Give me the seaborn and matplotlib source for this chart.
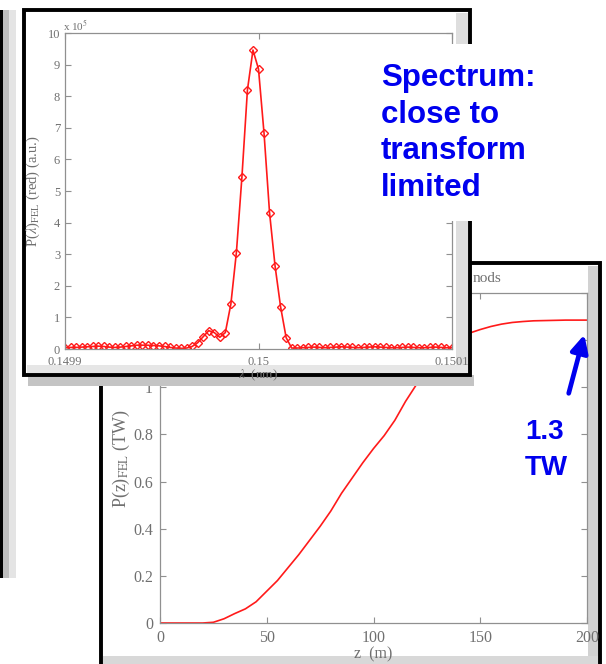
import numpy as np
import matplotlib
matplotlib.use("Agg")
import matplotlib.pyplot as plt
from matplotlib.patches import Rectangle, FancyArrowPatch
from matplotlib.ticker import FuncFormatter
import seaborn as sns

# ---------------- data ----------------
# FEL spectrum (a.u., x 10^5) on a regular wavelength grid 0.1499 .. 0.1501 nm
spec_vals = [0.04, 0.05, 0.05, 0.06, 0.07, 0.08, 0.09, 0.08, 0.06, 0.05, 0.06,
             0.08, 0.10, 0.12, 0.12, 0.12, 0.11, 0.10, 0.08,
             0.05, 0.03, 0.02, 0.03,
             0.08, 0.20, 0.39, 0.58, 0.52, 0.37, 0.52, 1.42, 3.05, 5.44, 8.20,
             9.46, 8.86, 6.83, 4.31, 2.62, 1.33, 0.36, 0.03,
             0.03, 0.04, 0.05, 0.06, 0.05, 0.04, 0.05, 0.06, 0.07, 0.06, 0.05,
             0.04, 0.05, 0.06, 0.07, 0.06, 0.05, 0.04, 0.04, 0.05, 0.06, 0.05,
             0.04, 0.04, 0.05, 0.06, 0.05, 0.04, 0.04]
lam_min, lam_max = 0.1499, 0.1501
lam = np.linspace(lam_min, lam_max, len(spec_vals))
spec_xticks = [0.1499, 0.15, 0.1501]
spec_xticklabels = ["0.1499", "0.15", "0.1501"]
spec_yticks = list(range(0, 11))

# FEL power along the undulator
z_m = [0, 5, 10, 15, 20, 25, 30, 35, 40, 45, 50, 55, 60, 65, 70, 75, 80, 85, 90, 95,
       100, 105, 110, 115, 120, 125, 130, 135, 140, 145, 150, 155, 160, 165, 170,
       175, 180, 185, 190, 195, 200]
p_tw = [0, 0, 0, 0, 0, 0.003, 0.018, 0.04, 0.06, 0.09, 0.135, 0.18, 0.235, 0.29,
        0.35, 0.41, 0.475, 0.55, 0.615, 0.68, 0.74, 0.795, 0.86, 0.94, 1.01, 1.08,
        1.14, 1.18, 1.21, 1.23, 1.245, 1.258, 1.268, 1.275, 1.279, 1.282, 1.283,
        1.284, 1.285, 1.285, 1.285]
pow_xticks = [0, 50, 100, 150, 200]
pow_yticks = [0, 0.2, 0.4, 0.6, 0.8, 1.0, 1.2, 1.4]

# ---------------- figure ----------------
sns.set_style("ticks")
plt.rcParams["font.family"] = ["Liberation Serif", "DejaVu Serif"]
plt.rcParams["mathtext.fontset"] = "stix"

W, H = 606, 664
fig = plt.figure(figsize=(W / 100, H / 100), dpi=100)
fig.patch.set_facecolor("white")


def fx(x):
    return x / W


def fy(y):
    return 1 - y / H


def rect(x0, y0, x1, y1, z, fc="white", ec="none", lw=0):
    r = Rectangle((fx(x0), fy(y1)), (x1 - x0) / W, (y1 - y0) / H,
                  transform=fig.transFigure, facecolor=fc, edgecolor=ec,
                  linewidth=lw, zorder=z)
    fig.add_artist(r)
    return r


tick_col = "#707070"
spine_col = "#909090"

# background slide frame at far left
rect(0, 10, 3, 578, 0.2, fc="black")
rect(3, 10, 9, 578, 0.2, fc="#bdbdbd")
rect(9, 10, 16, 578, 0.2, fc="#e4e4e4")

# ---- power panel (underneath) ----
rect(101, 263, 600, 720, 0.5, fc="white", ec="black", lw=2.8)
rect(588, 266, 598, 720, 0.55, fc="#d2d2d2")
rect(103, 656, 598, 664, 0.55, fc="#d8d8d8")
ax2 = fig.add_axes([fx(160), fy(623), (587 - 160) / W, (623 - 293) / H])
ax2.set_zorder(1)
sns.lineplot(x=z_m, y=p_tw, ax=ax2, color="#ff1a1a", linewidth=1.2)
ax2.set_xlim(0, 200)
ax2.set_ylim(0, 1.4)
ax2.set_xticks(pow_xticks)
ax2.set_yticks(pow_yticks)
ax2.yaxis.set_major_formatter(FuncFormatter(lambda v, p: "%g" % round(v, 2)))
ax2.tick_params(direction="in", top=True, right=True, length=4, width=0.8,
                colors=spine_col, labelcolor=tick_col, labelsize=11.5, pad=5)
for s in ax2.spines.values():
    s.set_color(spine_col)
    s.set_linewidth(0.9)
ax2.set_xlabel("z  (m)", fontsize=11.5, color=tick_col, labelpad=0)
ax2.set_ylabel(r"P(z)$_{\mathrm{FEL}}$ (TW)", fontsize=13, color=tick_col,
               labelpad=1)
fig.text(fx(473), fy(279), "nods", fontsize=11, color=tick_col,
         ha="left", va="center", zorder=0.9)

# ---- spectrum panel (on top) ----
rect(28, 375, 474, 386, 1.9, fc="#c4c4c4")
rect(24, 10, 470, 375, 2.0, fc="white", ec="black", lw=2.8)
rect(456, 13, 468, 373, 2.05, fc="#dedede")
rect(27, 365, 468, 373, 2.05, fc="#e6e6e6")
ax1 = fig.add_axes([fx(65), fy(349), (452 - 65) / W, (349 - 33) / H])
ax1.set_zorder(3)
ax1.patch.set_alpha(0)
sns.lineplot(x=lam, y=spec_vals, ax=ax1, color="#ff1a1a", linewidth=1.2,
             marker="D", markersize=4.4, markerfacecolor="none",
             markeredgecolor="#ff1a1a", markeredgewidth=1.0)
ax1.set_xlim(lam_min, lam_max)
ax1.set_ylim(0, 10)
ax1.set_xticks(spec_xticks)
ax1.set_xticklabels(spec_xticklabels)
ax1.set_yticks(spec_yticks)
ax1.tick_params(direction="in", top=True, right=True, length=4, width=0.8,
                colors=spine_col, labelcolor=tick_col, labelsize=9, pad=3.5)
ax1.tick_params(axis="x", pad=5)
for s in ax1.spines.values():
    s.set_color(spine_col)
    s.set_linewidth(0.9)
ax1.set_xlabel(r"$\lambda$  (nm)", fontsize=9.5, color=tick_col, labelpad=0)
ax1.set_ylabel(r"P($\lambda$)$_{\mathrm{FEL}}$ (red) (a.u.)", fontsize=10.5,
               color=tick_col, labelpad=4)
fig.text(fx(63), fy(30), r"x 10$^{5}$", fontsize=8, color=tick_col,
         ha="left", va="baseline", zorder=4)

# ---- annotation: spectrum text box ----
rect(376, 44, 557, 221, 5, fc="white")
blue = "#0000ee"
for i, line in enumerate(["Spectrum:", "close to", "transform", "limited"]):
    fig.text(fx(381), fy(86 + i * 36.7), line, fontsize=22.5, fontweight="bold",
             color=blue, family=["Liberation Sans", "DejaVu Sans"],
             ha="left", va="baseline", zorder=6)

# ---- annotation: 1.3 TW ----
fig.text(fx(525), fy(439), "1.3", fontsize=20, fontweight="bold", color=blue,
         family=["Liberation Sans", "DejaVu Sans"], ha="left", va="baseline",
         zorder=6)
fig.text(fx(525), fy(475), "TW", fontsize=20, fontweight="bold", color=blue,
         family=["Liberation Sans", "DejaVu Sans"], ha="left", va="baseline",
         zorder=6)
arrow = FancyArrowPatch((fx(568), fy(396)), (fx(585), fy(332)),
                        transform=fig.transFigure, arrowstyle="-|>",
                        mutation_scale=26, linewidth=3.4, color=blue, zorder=6)
fig.add_artist(arrow)

fig.savefig("out.png", dpi=100)
